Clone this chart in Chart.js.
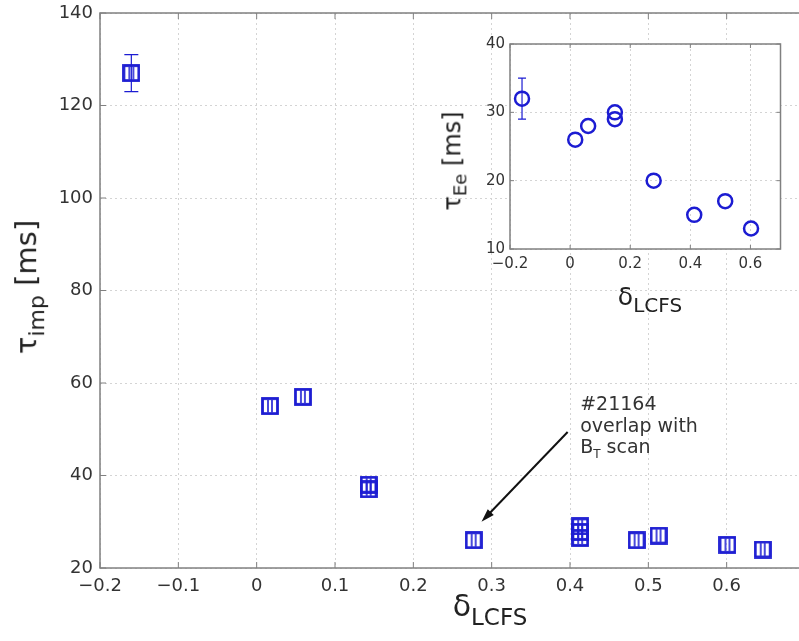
<!DOCTYPE html>
<html>
<head>
<meta charset="utf-8">
<script src="https://cdn.jsdelivr.net/npm/chart.js@4"></script>
<style>
  body { margin: 0; overflow: hidden; background: #fff; width: 799px; height: 641px; position: relative;
         font-family: "DejaVu Sans", sans-serif; color: #222; }
  #mainChart { position: absolute; left: 0; top: 0; }
  #insetChart { position: absolute; left: 430px; top: 30px; }
  .lbl { position: absolute; white-space: nowrap; transform: translate(-50%, -50%); line-height: 1; }
  .rot { transform: translate(-50%, -50%) rotate(-90deg); }
  .lbl sub { vertical-align: -0.35em; line-height: 1; }
</style>
</head>
<body>
<canvas id="mainChart" width="819" height="641"></canvas>
<canvas id="insetChart" width="360" height="300"></canvas>

<div class="lbl rot" style="left:30px;top:287px;font-size:29px">τ<sub style="font-size:22px">imp</sub> [ms]</div>
<div class="lbl" style="left:490px;top:610px;font-size:30px">δ<sub style="font-size:23px">LCFS</sub></div>
<div class="lbl rot" style="left:455px;top:161px;font-size:24px">τ<sub style="font-size:18px">Ee</sub> [ms]</div>
<div class="lbl" style="left:650px;top:299px;font-size:25px">δ<sub style="font-size:20px">LCFS</sub></div>

<script>
// main plot: impurity confinement time vs triangularity
var mainDelta = [-0.16, 0.017, 0.059, 0.143, 0.143, 0.277, 0.413, 0.413, 0.413, 0.485, 0.513, 0.601, 0.646];
var mainTau   = [127, 55, 57, 38, 37, 26, 29, 27.8, 26.5, 26, 27, 25, 24];
var mainErrDelta = [-0.16];
var mainErrLow   = [123];
var mainErrHigh  = [131];

// inset: energy confinement time vs triangularity
var insetDelta = [-0.16, 0.017, 0.06, 0.149, 0.149, 0.278, 0.413, 0.516, 0.602];
var insetTau   = [32, 26, 28, 30, 29, 20, 15, 17, 13];
var insetErrDelta = [-0.16];
var insetErrLow   = [29];
var insetErrHigh  = [35];

var annotText = ["#21164", "overlap with", "B_T scan"];
var annotTextPos = [0.413, 55.2];
var annotArrowFrom = [0.397, 49.4];
var annotArrowTo = [0.287, 30];

var blue = "#1c1cd2";
var axisGray = "#808080";
var gridGray = "#d4d4d4";

function fmt(v) {
  var r = Math.round(v * 10) / 10;
  return (r < 0 ? "\u2212" : "") + Math.abs(r);
}

function squareMarker() {
  var c = document.createElement("canvas");
  c.width = 18; c.height = 18;
  var g = c.getContext("2d");
  g.strokeStyle = blue;
  g.lineWidth = 2.8;
  g.strokeRect(1.5, 1.5, 15, 15);
  g.lineWidth = 1.6;
  g.beginPath();
  g.moveTo(7, 3); g.lineTo(7, 15);
  g.moveTo(11, 3); g.lineTo(11, 15);
  g.stroke();
  return c;
}

// keep the plot area where it is, whatever size the tick labels are
function fixY(w) {
  return function (s) { s.width = w; s.paddingTop = 0; s.paddingBottom = 0; };
}
function fixX(h) {
  return function (s) { s.height = h; s.paddingLeft = 0; s.paddingRight = 0; };
}

// white plot area + axes box with inward ticks
var boxPlugin = {
  id: "axesBox",
  beforeDraw: function (chart, args, opts) {
    if (!opts.fill) return;
    var a = chart.chartArea, ctx = chart.ctx;
    ctx.save();
    ctx.fillStyle = "#fff";
    ctx.fillRect(a.left, a.top, a.right - a.left, a.bottom - a.top);
    ctx.restore();
  },
  afterDraw: function (chart, args, opts) {
    var a = chart.chartArea, ctx = chart.ctx;
    var t = opts.tick || 5;
    ctx.save();
    ctx.strokeStyle = axisGray;
    ctx.lineWidth = 1.5;
    ctx.strokeRect(a.left, a.top, a.right - a.left, a.bottom - a.top);
    ctx.lineWidth = 1;
    ctx.beginPath();
    chart.scales.x.ticks.forEach(function (tk) {
      var px = chart.scales.x.getPixelForValue(tk.value);
      ctx.moveTo(px, a.bottom); ctx.lineTo(px, a.bottom - t);
      ctx.moveTo(px, a.top); ctx.lineTo(px, a.top + t);
    });
    chart.scales.y.ticks.forEach(function (tk) {
      var py = chart.scales.y.getPixelForValue(tk.value);
      ctx.moveTo(a.left, py); ctx.lineTo(a.left + t, py);
      ctx.moveTo(a.right, py); ctx.lineTo(a.right - t, py);
    });
    ctx.stroke();
    ctx.restore();
  }
};

var errPlugin = {
  id: "errorBars",
  afterDatasetsDraw: function (chart, args, opts) {
    var xs = chart.scales.x, ys = chart.scales.y, ctx = chart.ctx;
    ctx.save();
    ctx.strokeStyle = blue;
    ctx.lineWidth = 1.2;
    ctx.beginPath();
    opts.x.forEach(function (xv, i) {
      var px = xs.getPixelForValue(xv);
      var lo = ys.getPixelForValue(opts.low[i]);
      var hi = ys.getPixelForValue(opts.high[i]);
      ctx.moveTo(px, lo); ctx.lineTo(px, hi);
      ctx.moveTo(px - opts.cap, lo); ctx.lineTo(px + opts.cap, lo);
      ctx.moveTo(px - opts.cap, hi); ctx.lineTo(px + opts.cap, hi);
    });
    ctx.stroke();
    ctx.restore();
  }
};

var annotPlugin = {
  id: "annot",
  afterDraw: function (chart) {
    var xs = chart.scales.x, ys = chart.scales.y, ctx = chart.ctx;
    var x0 = xs.getPixelForValue(annotArrowFrom[0]), y0 = ys.getPixelForValue(annotArrowFrom[1]);
    var x1 = xs.getPixelForValue(annotArrowTo[0]), y1 = ys.getPixelForValue(annotArrowTo[1]);
    var ang = Math.atan2(y1 - y0, x1 - x0);
    ctx.save();
    ctx.strokeStyle = "#111";
    ctx.fillStyle = "#111";
    ctx.lineWidth = 2;
    ctx.beginPath();
    ctx.moveTo(x0, y0);
    ctx.lineTo(x1 - 10 * Math.cos(ang), y1 - 10 * Math.sin(ang));
    ctx.stroke();
    ctx.beginPath();
    ctx.moveTo(x1, y1);
    ctx.lineTo(x1 - 14 * Math.cos(ang - 0.3), y1 - 14 * Math.sin(ang - 0.3));
    ctx.lineTo(x1 - 14 * Math.cos(ang + 0.3), y1 - 14 * Math.sin(ang + 0.3));
    ctx.closePath();
    ctx.fill();

    var tx = xs.getPixelForValue(annotTextPos[0]), ty = ys.getPixelForValue(annotTextPos[1]);
    ctx.fillStyle = "#333";
    ctx.font = "19px 'DejaVu Sans'";
    ctx.textBaseline = "middle";
    ctx.textAlign = "left";
    ctx.fillText(annotText[0], tx, ty);
    ctx.fillText(annotText[1], tx, ty + 22);
    // B with subscript T
    ctx.fillText("B", tx, ty + 43);
    var bw = ctx.measureText("B").width;
    ctx.font = "12px 'DejaVu Sans'";
    ctx.fillText("T", tx + bw, ty + 50);
    var tw = ctx.measureText("T").width;
    ctx.font = "19px 'DejaVu Sans'";
    ctx.fillText(" scan", tx + bw + tw, ty + 43);
    ctx.restore();
  }
};

Chart.defaults.font.family = "'DejaVu Sans', sans-serif";
Chart.defaults.color = "#333";

new Chart("mainChart", {
  type: "scatter",
  data: {
    datasets: [{
      data: mainDelta.map(function (d, i) { return { x: d, y: mainTau[i] }; }),
      pointStyle: squareMarker(),
      pointRadius: 9
    }]
  },
  options: {
    responsive: false,
    animation: false,
    events: [],
    layout: { padding: { top: 13, right: 14, left: 0, bottom: 0 } },
    plugins: {
      legend: { display: false },
      tooltip: { enabled: false },
      errorBars: { x: mainErrDelta, low: mainErrLow, high: mainErrHigh, cap: 7 },
      axesBox: { fill: false, tick: 6 }
    },
    scales: {
      x: {
        type: "linear", min: -0.2, max: 0.7,
        afterFit: fixX(73),
        ticks: { stepSize: 0.1, autoSkip: false, maxRotation: 0, padding: 8,
                 font: { size: 18 }, color: "#333",
                 callback: function (v) { return v > 0.65 ? "" : fmt(v); } },
        grid: { color: gridGray, drawTicks: false },
        border: { display: false, dash: [2, 3] }
      },
      y: {
        min: 20, max: 140,
        afterFit: fixY(100),
        ticks: { stepSize: 20, padding: 7, font: { size: 18 }, color: "#333" },
        grid: { color: gridGray, drawTicks: false },
        border: { display: false, dash: [2, 3] }
      }
    }
  },
  plugins: [boxPlugin, errPlugin, annotPlugin]
});

new Chart("insetChart", {
  type: "scatter",
  data: {
    datasets: [{
      data: insetDelta.map(function (d, i) { return { x: d, y: insetTau[i] }; }),
      pointStyle: "circle",
      pointRadius: 7,
      borderColor: blue,
      borderWidth: 2.5,
      backgroundColor: "rgba(0,0,0,0)"
    }]
  },
  options: {
    responsive: false,
    animation: false,
    events: [],
    layout: { padding: { top: 14, right: 7, left: 0, bottom: 0 } },
    plugins: {
      legend: { display: false },
      tooltip: { enabled: false },
      errorBars: { x: insetErrDelta, low: insetErrLow, high: insetErrHigh, cap: 4 },
      axesBox: { fill: true, tick: 4 }
    },
    scales: {
      x: {
        type: "linear", min: -0.2, max: 0.7,
        afterFit: fixX(81),
        ticks: { stepSize: 0.2, includeBounds: false, autoSkip: false, maxRotation: 0, padding: 6,
                 font: { size: 15 }, color: "#333", callback: function (v) { return fmt(v); } },
        grid: { color: gridGray, drawTicks: false },
        border: { display: false, dash: [2, 3] }
      },
      y: {
        min: 10, max: 40,
        afterFit: fixY(80),
        ticks: { stepSize: 10, padding: 5, font: { size: 15 }, color: "#333" },
        grid: { color: gridGray, drawTicks: false },
        border: { display: false, dash: [2, 3] }
      }
    }
  },
  plugins: [boxPlugin, errPlugin]
});
</script>
</body>
</html>
